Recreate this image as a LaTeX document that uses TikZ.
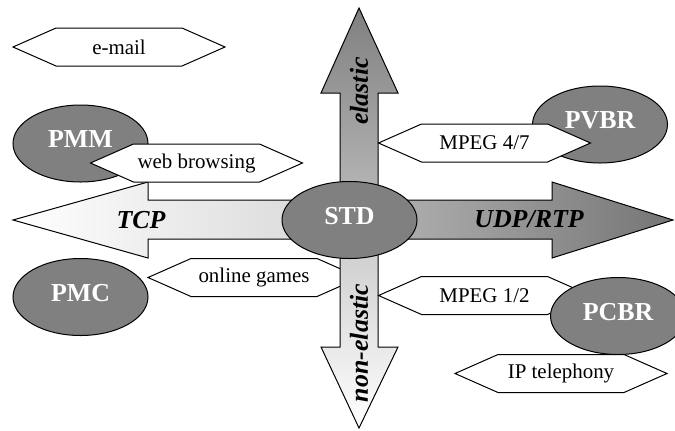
\documentclass[tikz,border=0pt]{standalone}
\usepackage{fontspec}
\setmainfont{Liberation Serif}
\usetikzlibrary{shapes.geometric}
\definecolor{blobgray}{gray}{0.5}
\definecolor{leftnear}{gray}{0.84}
\definecolor{rightnear}{gray}{0.72}
\definecolor{rightfar}{gray}{0.46}
\definecolor{uptip}{gray}{0.5}
\definecolor{upnear}{gray}{0.74}
\definecolor{downnear}{gray}{0.78}
\newcommand{\hexnode}[4]{%
  \draw[hexline] (#2-106,#3) -- (#2-63,#3-19) -- (#2+63,#3-19) -- (#2+106,#3)
    -- (#2+63,#3+19) -- (#2-63,#3+19) -- cycle;
  \node[hextext] (#1) at (#2,#3) {#4};}
\begin{document}
\begin{tikzpicture}[x=1bp,y=-1bp,
  outline/.style={draw=black, line width=1bp, line join=miter},
  hexline/.style={draw=black, line width=1bp, fill=white, line join=miter},
  hextext/.style={font=\fontsize{21}{24}\selectfont, inner sep=0pt},
  blob/.style={ellipse, draw=black, line width=1bp, fill=blobgray,
    minimum width=135bp, minimum height=77bp, inner sep=0pt,
    font=\fontsize{26}{30}\selectfont\bfseries, text=white, text depth=8bp},
  axistext/.style={font=\fontsize{26}{30}\selectfont\bfseries\itshape, inner sep=0pt}]
\useasboundingbox (0,0) rectangle (675,430);

% hexagon lying under the down arrow
\hexnode{games}{254}{277.5}{online games}

% arrows
\shadedraw[outline, left color=white, right color=leftnear]
  (349,200) -- (148,200) -- (148,182) -- (13,220) -- (148,258) -- (148,239) -- (349,239) -- cycle;
\shadedraw[outline, left color=rightnear, right color=rightfar]
  (349,200) -- (552,200) -- (552,182) -- (673,220) -- (552,258) -- (552,239) -- (349,239) -- cycle;
\shadedraw[outline, top color=uptip, bottom color=upnear]
  (340,220) -- (340,93) -- (321,93) -- (359,8) -- (398,93) -- (378,93) -- (378,220) -- cycle;
\shadedraw[outline, top color=downnear, bottom color=white]
  (340,220) -- (340,347) -- (321,347) -- (359,428) -- (398,347) -- (378,347) -- (378,220) -- cycle;

\node[axistext] (tcp) at (141,220) {TCP};
\node[axistext] (udp) at (529,219) {UDP/RTP};
\node[axistext, rotate=90] (elastic) at (359,91) {elastic};
\node[axistext, rotate=90] (nonelastic) at (359,343) {non-elastic};

\node[blob] (std) at (349.5,220) {STD};

\node[blob] (pmm) at (80.5,143.5) {PMM};
\hexnode{web}{196.5}{163}{web browsing}

\node[blob] (pvbr) at (600,124.5) {PVBR};
\hexnode{mpegb}{484.5}{143}{MPEG 4/7}

\hexnode{mpega}{484.5}{295.5}{MPEG 1/2}
\node[blob] (pcbr) at (618,316) {PCBR};
\hexnode{ipt}{561}{373.5}{IP telephony}

\node[blob] (pmc) at (80.5,297) {PMC};
\hexnode{email}{119}{47}{e-mail}
\end{tikzpicture}
\end{document}
